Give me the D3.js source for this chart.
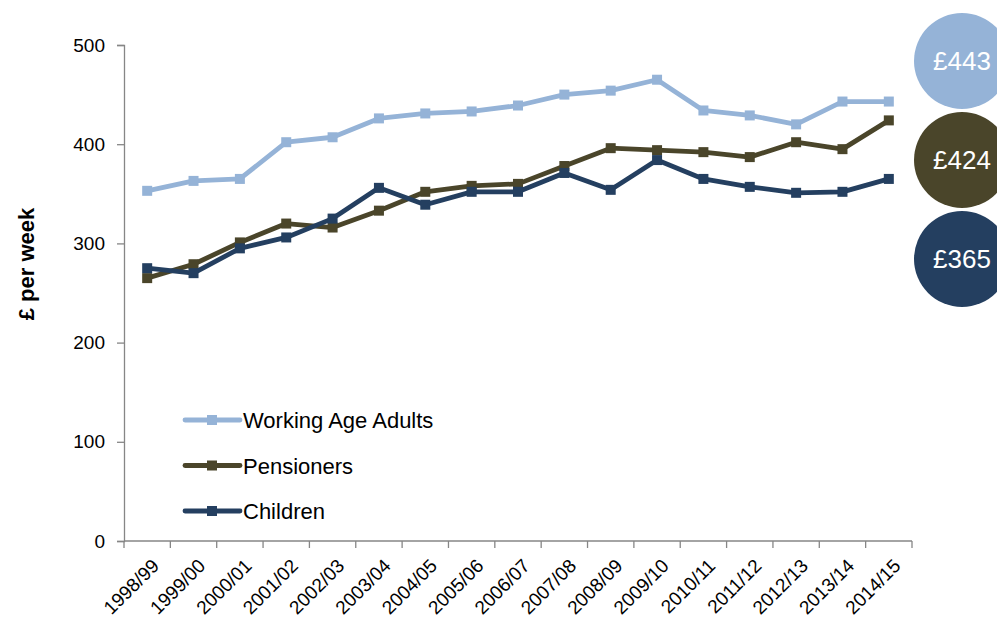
<!DOCTYPE html>
<html>
<head>
<meta charset="utf-8">
<script src="https://cdn.jsdelivr.net/npm/d3@7"></script>
<style>
  body { margin: 0; background: #fff; }
  svg { font-family: "Liberation Sans", Arial, sans-serif; }
</style>
</head>
<body>
<div id="chart"></div>
<script>
let w = 997,
    h = 619;

// years on the x axis
let years = ["1998/99", "1999/00", "2000/01", "2001/02", "2002/03", "2003/04", "2004/05", "2005/06",
             "2006/07", "2007/08", "2008/09", "2009/10", "2010/11", "2011/12", "2012/13", "2013/14", "2014/15"];

let workingAge = [353, 363, 365, 402, 407, 426, 431, 433, 439, 450, 454, 465, 434, 429, 420, 443, 443];
let pensioners = [265, 279, 301, 320, 316, 333, 352, 358, 360, 378, 396, 394, 392, 387, 402, 395, 424];
let children   = [275, 270, 295, 306, 325, 356, 339, 352, 352, 371, 354, 384, 365, 357, 351, 352, 365];

let seriesNames = ["Working Age Adults", "Pensioners", "Children"];
let seriesColors = ["#95B3D7", "#4A452A", "#243F60"];
let yTicks = [0, 100, 200, 300, 400, 500];

let margin = { top: 45, left: 124, right: 85, bottom: 78 };

let svg = d3.select("#chart")
            .append("svg")
            .attr("width", w)
            .attr("height", h);

let x = d3.scaleBand()
          .domain(years)
          .range([margin.left, 912]);

let y = d3.scaleLinear()
          .domain([0, 500])
          .range([541, margin.top]);

// y axis
let yAxis = svg.append("g")
               .attr("transform", "translate(" + margin.left + ",0)")
               .call(d3.axisLeft(y).tickValues(yTicks).tickSize(7).tickPadding(12));
yAxis.select(".domain").attr("stroke", "#868686").attr("stroke-width", 1.3);
yAxis.selectAll(".tick line").attr("stroke", "#868686").attr("stroke-width", 1.3);
yAxis.selectAll(".tick text").attr("font-size", "19px").attr("fill", "#000")
     .attr("font-family", "Liberation Sans, Arial, sans-serif");

// x axis, ticks on band edges
let xAxis = svg.append("g")
               .attr("transform", "translate(0,541)");
xAxis.append("line")
     .attr("x1", margin.left).attr("x2", 912)
     .attr("stroke", "#868686").attr("stroke-width", 1.3);
xAxis.selectAll(".xtick")
     .data(years.concat(["end"]))
     .enter()
     .append("line")
     .attr("class", "xtick")
     .attr("x1", (d, i) => margin.left + i * x.step())
     .attr("x2", (d, i) => margin.left + i * x.step())
     .attr("y1", 0).attr("y2", 7)
     .attr("stroke", "#868686").attr("stroke-width", 1.3);
xAxis.selectAll(".xlabel")
     .data(years)
     .enter()
     .append("text")
     .attr("class", "xlabel")
     .attr("transform", d => "translate(" + (x(d) + x.bandwidth() / 2 + 13) + ",26) rotate(-45)")
     .attr("text-anchor", "end")
     .attr("font-size", "19px")
     .attr("fill", "#000")
     .text(d => d);

// y label
svg.append("text")
   .attr("transform", "translate(34,264) rotate(-90)")
   .attr("text-anchor", "middle")
   .attr("font-size", "22px")
   .attr("font-weight", "bold")
   .text("£ per week");

let allSeries = [workingAge, pensioners, children];

let line = d3.line()
             .x((d, i) => x(years[i]) + x.bandwidth() / 2)
             .y(d => y(d));

allSeries.forEach((values, k) => {
  svg.append("path")
     .datum(values)
     .attr("d", line)
     .attr("fill", "none")
     .attr("stroke", seriesColors[k])
     .attr("stroke-width", 4.8)
     .attr("stroke-linejoin", "round");

  svg.selectAll(".m" + k)
     .data(values)
     .enter()
     .append("rect")
     .attr("class", "m" + k)
     .attr("x", (d, i) => x(years[i]) + x.bandwidth() / 2 - 5)
     .attr("y", d => y(d) - 5)
     .attr("width", 10)
     .attr("height", 10)
     .attr("fill", seriesColors[k]);
});

// legend
let legend = svg.selectAll(".legend")
                .data(seriesNames)
                .enter()
                .append("g")
                .attr("class", "legend")
                .attr("transform", (d, i) => "translate(185," + (420 + i * 45.5) + ")");
legend.append("line")
      .attr("x1", 0).attr("x2", 55)
      .attr("stroke", (d, i) => seriesColors[i])
      .attr("stroke-width", 4.8)
      .attr("stroke-linecap", "round");
legend.append("rect")
      .attr("x", 22).attr("y", -5)
      .attr("width", 10).attr("height", 10)
      .attr("fill", (d, i) => seriesColors[i]);
legend.append("text")
      .attr("x", 58)
      .attr("y", 8)
      .attr("font-size", "22px")
      .attr("fill", "#000")
      .text(d => d);

// latest value bubbles
let latest = allSeries.map(s => s[s.length - 1]);
let bubbles = svg.selectAll(".bubble")
                 .data(latest)
                 .enter()
                 .append("g")
                 .attr("class", "bubble")
                 .attr("transform", (d, i) => "translate(962," + (61 + i * 99) + ")");
bubbles.append("circle")
       .attr("r", 48)
       .attr("fill", (d, i) => seriesColors[i]);
bubbles.append("text")
       .attr("text-anchor", "middle")
       .attr("y", 9)
       .attr("font-size", "26px")
       .attr("fill", "#fff")
       .text(d => "£" + d);
</script>
</body>
</html>
